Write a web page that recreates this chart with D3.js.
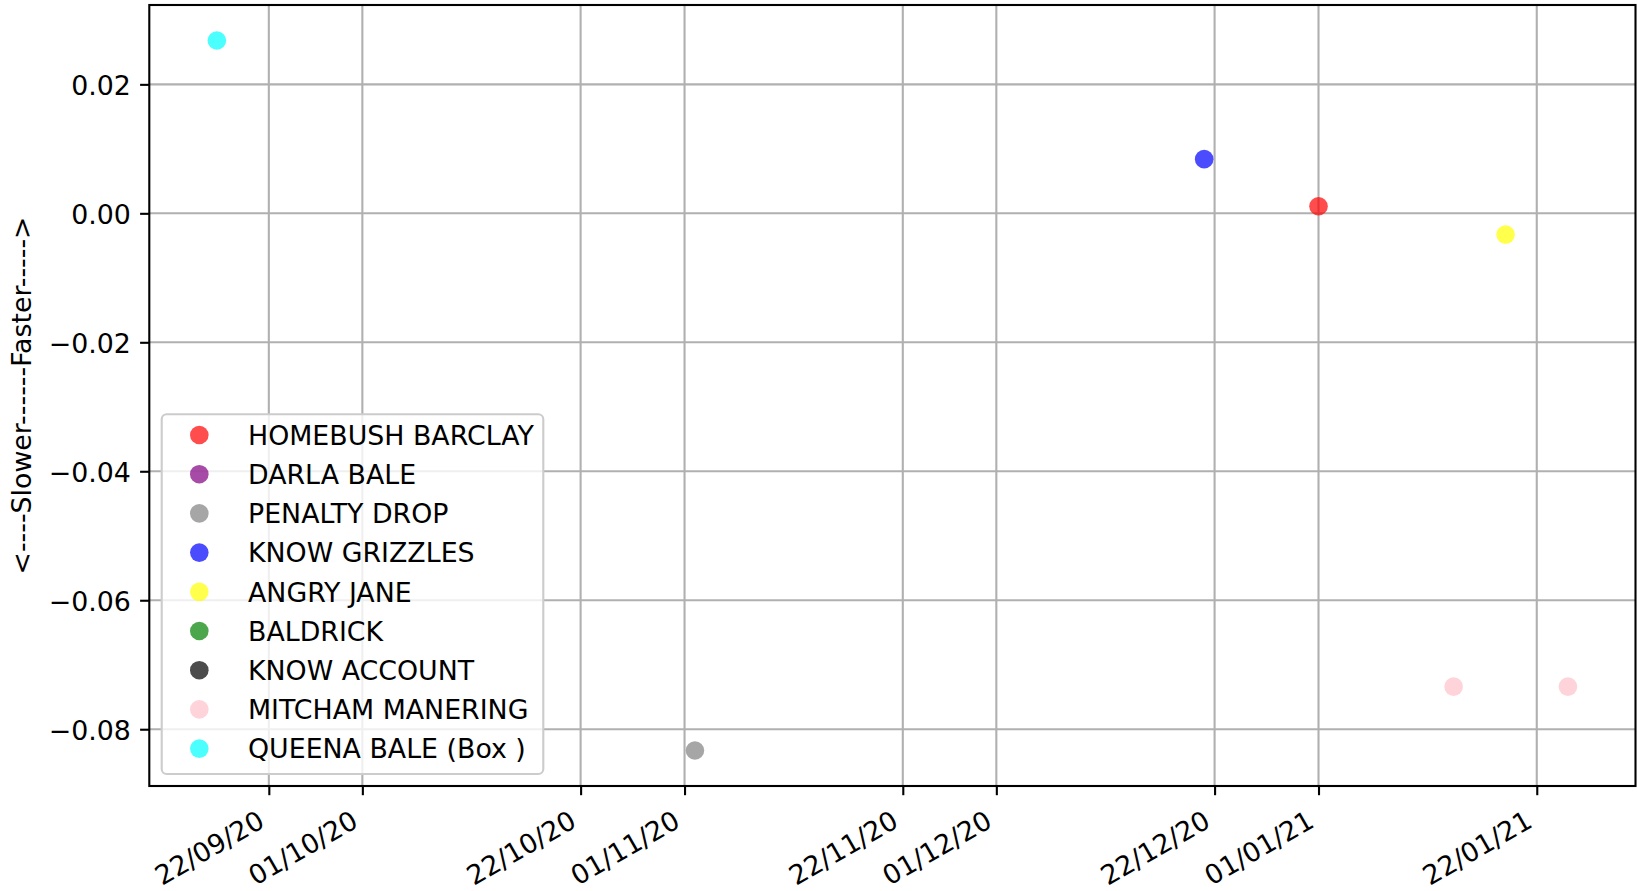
<!DOCTYPE html>
<html>
<head>
<meta charset="utf-8">
<script src="https://cdn.jsdelivr.net/npm/d3@7"></script>
<style>
  body { margin: 0; background: #fff; }
  svg text { font-family: "DejaVu Sans", sans-serif; }
</style>
</head>
<body>
<div id="chart"></div>
<script>
  // DATA
  const horses = ["HOMEBUSH BARCLAY", "DARLA BALE", "PENALTY DROP", "KNOW GRIZZLES",
    "ANGRY JANE", "BALDRICK", "KNOW ACCOUNT", "MITCHAM MANERING", "QUEENA BALE (Box )"];
  const horseColors = ["red", "purple", "grey", "blue", "yellow", "green", "black", "pink", "cyan"];
  const raceDates = [
    ["01/01/21"],
    [],
    ["02/11/20"],
    ["21/12/20"],
    ["19/01/21"],
    [],
    [],
    ["14/01/21", "25/01/21"],
    ["17/09/20"]
  ];
  const speedDiffs = [
    [0.0011],
    [],
    [-0.0833],
    [0.0084],
    [-0.0033],
    [],
    [],
    [-0.0734, -0.0734],
    [0.0268]
  ];
  const xTickLabels = ["22/09/20", "01/10/20", "22/10/20", "01/11/20", "22/11/20",
    "01/12/20", "22/12/20", "01/01/21", "22/01/21"];
  const yTickValues = [0.02, 0.00, -0.02, -0.04, -0.06, -0.08];

  const W = 1637, H = 891;
  const PLOT = { left: 149.3, right: 1635.5, top: 5, bottom: 786 };
  const FONT = 26.8;
  const TICK = 9.2;

  const parseDate = d3.timeParse("%d/%m/%y");

  const points = [];
  horses.forEach((name, i) => {
    raceDates[i].forEach((d, j) => {
      points.push({ name: name, color: horseColors[i], date: parseDate(d), value: speedDiffs[i][j] });
    });
  });

  // SCALES (5% margins like matplotlib)
  const tExt = d3.extent(points, d => d.date);
  const tPad = (tExt[1] - tExt[0]) * 0.05;
  const vExt = d3.extent(points, d => d.value);
  const vPad = (vExt[1] - vExt[0]) * 0.05;

  const x = d3.scaleTime()
    .domain([new Date(+tExt[0] - tPad), new Date(+tExt[1] + tPad)])
    .range([PLOT.left, PLOT.right]);
  const y = d3.scaleLinear()
    .domain([vExt[0] - vPad, vExt[1] + vPad])
    .range([PLOT.bottom, PLOT.top]);

  const svg = d3.select("#chart")
    .append("svg")
    .attr("width", W)
    .attr("height", H);

  const xTicks = xTickLabels.map(parseDate);

  // GRID
  svg.append("g")
    .selectAll("line.vgrid")
    .data(xTicks)
    .join("line")
    .attr("x1", d => x(d)).attr("x2", d => x(d))
    .attr("y1", PLOT.top).attr("y2", PLOT.bottom)
    .style("stroke", "#b0b0b0")
    .style("stroke-width", 2.1);

  svg.append("g")
    .selectAll("line.hgrid")
    .data(yTickValues)
    .join("line")
    .attr("x1", PLOT.left).attr("x2", PLOT.right)
    .attr("y1", d => y(d)).attr("y2", d => y(d))
    .style("stroke", "#b0b0b0")
    .style("stroke-width", 2.1);

  // POINTS
  svg.append("g")
    .selectAll("circle")
    .data(points)
    .join("circle")
    .attr("cx", d => x(d.date))
    .attr("cy", d => y(d.value))
    .attr("r", 9.3)
    .style("fill", d => d.color)
    .style("fill-opacity", 0.7);

  // AXES
  const xAxis = d3.axisBottom(x)
    .tickValues(xTicks)
    .tickFormat(d3.timeFormat("%d/%m/%y"))
    .tickSize(TICK)
    .tickPadding(9.2);

  const gx = svg.append("g")
    .attr("transform", `translate(0,${PLOT.bottom})`)
    .call(xAxis);
  gx.select(".domain").remove();
  gx.selectAll(".tick line").style("stroke", "#000").style("stroke-width", 2.1);
  gx.selectAll(".tick text")
    .attr("y", 0).attr("dy", null)
    .attr("text-anchor", "end")
    .attr("transform", `translate(${-FONT * 1.164 / 2},${TICK + 9.2}) rotate(-30) translate(0,${FONT * 0.928})`)
    .style("font-size", FONT + "px")
    .style("fill", "#000");

  const yAxis = d3.axisLeft(y)
    .tickValues(yTickValues)
    .tickFormat(d => d3.format(".2f")(d).replace("-", "\u2212"))
    .tickSize(TICK)
    .tickPadding(9.2);

  const gy = svg.append("g")
    .attr("transform", `translate(${PLOT.left},0)`)
    .call(yAxis);
  gy.select(".domain").remove();
  gy.selectAll(".tick line").style("stroke", "#000").style("stroke-width", 2.1);
  gy.selectAll(".tick text")
    .attr("dy", null)
    .attr("y", 10)
    .style("font-size", FONT + "px")
    .style("fill", "#000");

  // FRAME
  svg.append("rect")
    .attr("x", PLOT.left)
    .attr("y", PLOT.top)
    .attr("width", PLOT.right - PLOT.left)
    .attr("height", PLOT.bottom - PLOT.top)
    .style("fill", "none")
    .style("stroke", "#000")
    .style("stroke-width", 2.1);

  // Y LABEL
  svg.append("text")
    .attr("transform", `translate(31,${(PLOT.top + PLOT.bottom) / 2}) rotate(-90)`)
    .attr("text-anchor", "middle")
    .text("<----Slower------Faster----->")
    .style("font-size", FONT + "px")
    .style("fill", "#000");

  // LEGEND
  const LEG = { x: 161.7, y: 414.3, w: 381.6, h: 359.7, row0: 435, step: 39.2 };
  const legend = svg.append("g");
  legend.append("rect")
    .attr("x", LEG.x).attr("y", LEG.y)
    .attr("width", LEG.w).attr("height", LEG.h)
    .attr("rx", 5).attr("ry", 5)
    .style("fill", "#fff")
    .style("fill-opacity", 0.8)
    .style("stroke", "#cccccc")
    .style("stroke-width", 2.1);

  const rows = legend.selectAll("g.row")
    .data(horses)
    .join("g")
    .attr("transform", (d, i) => `translate(0,${LEG.row0 + i * LEG.step})`);
  rows.append("circle")
    .attr("cx", 199.3)
    .attr("cy", 0)
    .attr("r", 9.3)
    .style("fill", (d, i) => horseColors[i])
    .style("fill-opacity", 0.7);
  rows.append("text")
    .attr("x", 248)
    .attr("y", FONT * 0.729 / 2)
    .text(d => d)
    .style("font-size", FONT + "px")
    .style("fill", "#000");
</script>
</body>
</html>
